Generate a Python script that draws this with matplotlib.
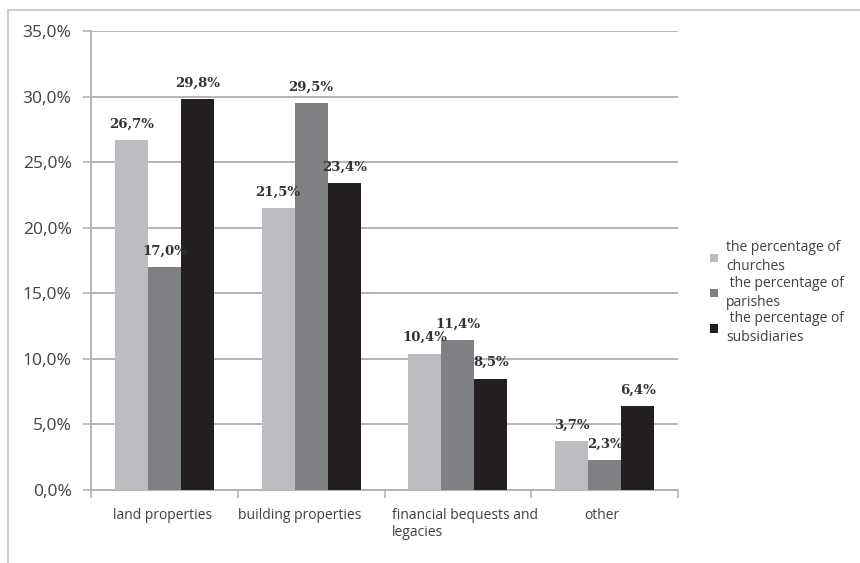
import matplotlib.pyplot as plt
import matplotlib.lines as mlines
import matplotlib.transforms as mtransforms
from matplotlib.ticker import FuncFormatter, FixedLocator
import numpy as np

categories = ["land properties", "building properties",
              "financial bequests and\nlegacies", "other"]
churches = [26.7, 21.5, 10.4, 3.7]
parishes = [17.0, 29.5, 11.4, 2.3]
subsidiaries = [29.8, 23.4, 8.5, 6.4]
series_names = ["the percentage of\nchurches",
                " the percentage of\nparishes",
                " the percentage of\nsubsidiaries"]
series_colors = ["#bcbdc0", "#7f8083", "#231f20"]

# small horizontal nudges (points) for the category captions
caption_shift = [-1, -8, 5, -2]

GRID = "#b4b4b4"
TEXT = "#404040"

fig = plt.figure(figsize=(8.6, 5.63), dpi=100)
ax = fig.add_axes([91 / 860, 1 - 490 / 563, (678 - 91) / 860, (490 - 31) / 563])

x = np.arange(len(categories))
w = 0.225
for i, (vals, col) in enumerate(zip([churches, parishes, subsidiaries], series_colors)):
    bars = ax.bar(x + (i - 1) * w, vals, width=w, color=col, zorder=3,
                  label=series_names[i])
    for b, v in zip(bars, vals):
        ax.annotate(f"{v:.1f}%".replace(".", ","),
                    (b.get_x() + b.get_width() / 2, v),
                    xytext=(0, 11.5), textcoords="offset points",
                    ha="center", va="center", fontsize=9.5, fontweight="bold",
                    family="DejaVu Serif", color="#333333", zorder=4)

ax.set_ylim(0, 35)
ax.set_xlim(-0.5, 3.5)
ax.set_yticks(np.arange(0, 36, 5))
ax.yaxis.set_major_formatter(FuncFormatter(lambda v, p: f"{v:.1f}%".replace(".", ",")))
ax.yaxis.grid(True, color=GRID, linewidth=1.4, zorder=0)

# category boundaries get the tick marks, labels sit at the centres
ax.xaxis.set_major_locator(FixedLocator(np.arange(-0.5, 4, 1)))
ax.xaxis.set_major_formatter(FuncFormatter(lambda v, p: ""))
ax.xaxis.set_minor_locator(FixedLocator(x))
ax.set_xticklabels(categories, minor=True)
ax.tick_params(axis="x", which="minor", length=0, pad=13)
for lbl, dx in zip(ax.get_xticklabels(minor=True), caption_shift):
    lbl.set_multialignment("left")
    lbl.set_verticalalignment("top")
    lbl.set_transform(lbl.get_transform() + mtransforms.ScaledTranslation(
        dx / 72, 0, fig.dpi_scale_trans))

ax.tick_params(axis="both", which="major", direction="out", length=6,
               color=GRID, width=1.2)
ax.tick_params(axis="y", pad=8)
for lbl in ax.get_yticklabels():
    lbl.set_family("Open Sans")
    lbl.set_fontsize(12.5)
    lbl.set_color(TEXT)
for lbl in ax.get_xticklabels(minor=True):
    lbl.set_family("Open Sans")
    lbl.set_fontsize(10)
    lbl.set_color(TEXT)

for side in ("top", "right"):
    ax.spines[side].set_visible(False)
for side in ("left", "bottom"):
    ax.spines[side].set_color(GRID)
    ax.spines[side].set_linewidth(1.4)

leg = ax.legend(loc="center left", bbox_to_anchor=(1.045, 0.43), frameon=False,
                prop={"family": "Open Sans", "size": 10}, labelcolor=TEXT,
                handlelength=0.55, handleheight=0.55, handletextpad=0.6,
                labelspacing=0.1, borderaxespad=0)
for t in leg.get_texts():
    t.set_linespacing(1.35)

# thin frame round the chart area
fig.add_artist(mlines.Line2D([8 / 860, 8 / 860], [0, 1 - 10 / 563],
                             color="#c4c4c4", linewidth=1.2))
fig.add_artist(mlines.Line2D([8 / 860, 1], [1 - 10 / 563, 1 - 10 / 563],
                             color="#c4c4c4", linewidth=1.2))

fig.savefig("out.png", dpi=100, facecolor="white")
